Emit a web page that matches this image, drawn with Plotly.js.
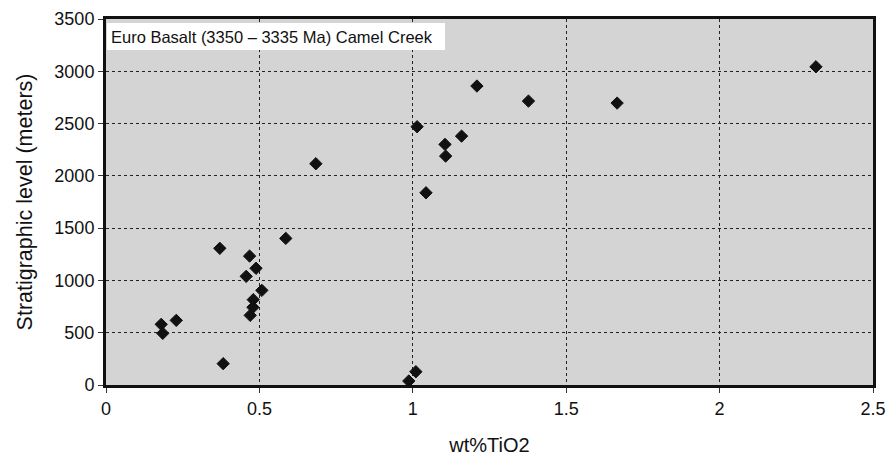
<!DOCTYPE html>
<html>
<head>
<meta charset="utf-8">
<script src="https://cdn.plot.ly/plotly-3.0.1.min.js"></script>
<style>html,body{margin:0;padding:0;background:#fff;}#chart{width:893px;height:457px;}</style>
</head>
<body>
<div id="chart"></div>
<script>
const tio2 = [0.371, 0.586, 0.468, 0.489, 0.457, 0.508, 0.480, 0.479, 0.470, 0.180, 0.229, 0.185, 0.382, 1.010, 0.987,
              0.684, 1.014, 1.105, 1.107, 1.043, 1.209, 1.377, 1.666, 2.314, 1.159];
const level = [1307, 1402, 1233, 1116, 1039, 905, 816, 743, 666, 580, 618, 494, 204, 127, 38,
               2116, 2470, 2301, 2189, 1838, 2859, 2715, 2696, 3043, 2380];
const xTicks = [0, 0.5, 1, 1.5, 2, 2.5];
const xTickText = ['0', '0.5', '1', '1.5', '2', '2.5'];
const yTicks = [0, 500, 1000, 1500, 2000, 2500, 3000, 3500];
const labelText = 'Euro Basalt (3350 \u2013 3335 Ma) Camel Creek';

const regular = '"Liberation Sans", Arial, sans-serif';

const trace = {
  x: tio2, y: level, type: 'scatter', mode: 'markers',
  marker: {symbol: 'diamond', size: 9.5, color: '#111111', line: {width: 1, color: '#111111'}},
  hoverinfo: 'x+y'
};

const layout = {
  width: 893, height: 457,
  margin: {l: 106, r: 20, t: 19, b: 72},
  paper_bgcolor: '#ffffff', plot_bgcolor: '#d4d4d4',
  showlegend: false,
  xaxis: {
    range: [0, 2.5], tickvals: xTicks, ticktext: xTickText,
    showgrid: true, gridcolor: '#222', griddash: 'dot', gridwidth: 1,
    zeroline: false, showline: true, mirror: true, linecolor: '#111', linewidth: 3,
    ticks: 'outside', ticklen: 5, tickcolor: '#333', tickwidth: 1,
    tickfont: {family: regular, size: 18, color: '#111'},
    title: {text: 'wt%TiO2', font: {family: regular, size: 20, color: '#111'}, standoff: 21}
  },
  yaxis: {
    range: [0, 3500], tickvals: yTicks,
    showgrid: true, gridcolor: '#222', griddash: 'dot', gridwidth: 1,
    zeroline: false, showline: true, mirror: true, linecolor: '#111', linewidth: 3,
    ticks: 'outside', ticklen: 5, tickcolor: '#333', tickwidth: 1,
    tickfont: {family: regular, size: 18, color: '#111'},
    title: {text: 'Stratigraphic level (meters)', font: {family: regular, size: 21.5, color: '#111'}, standoff: 16}
  },
  annotations: [{
    xref: 'paper', yref: 'paper', x: 0.0015, y: 0.989, xanchor: 'left', yanchor: 'top',
    text: labelText, showarrow: false, align: 'left', width: 330, height: 19,
    font: {family: regular, size: 16.5, color: '#111'},
    bgcolor: '#ffffff', borderpad: 4, borderwidth: 0
  }]
};

Plotly.newPlot('chart', [trace], layout, {staticPlot: true, displayModeBar: false});
</script>
</body>
</html>
